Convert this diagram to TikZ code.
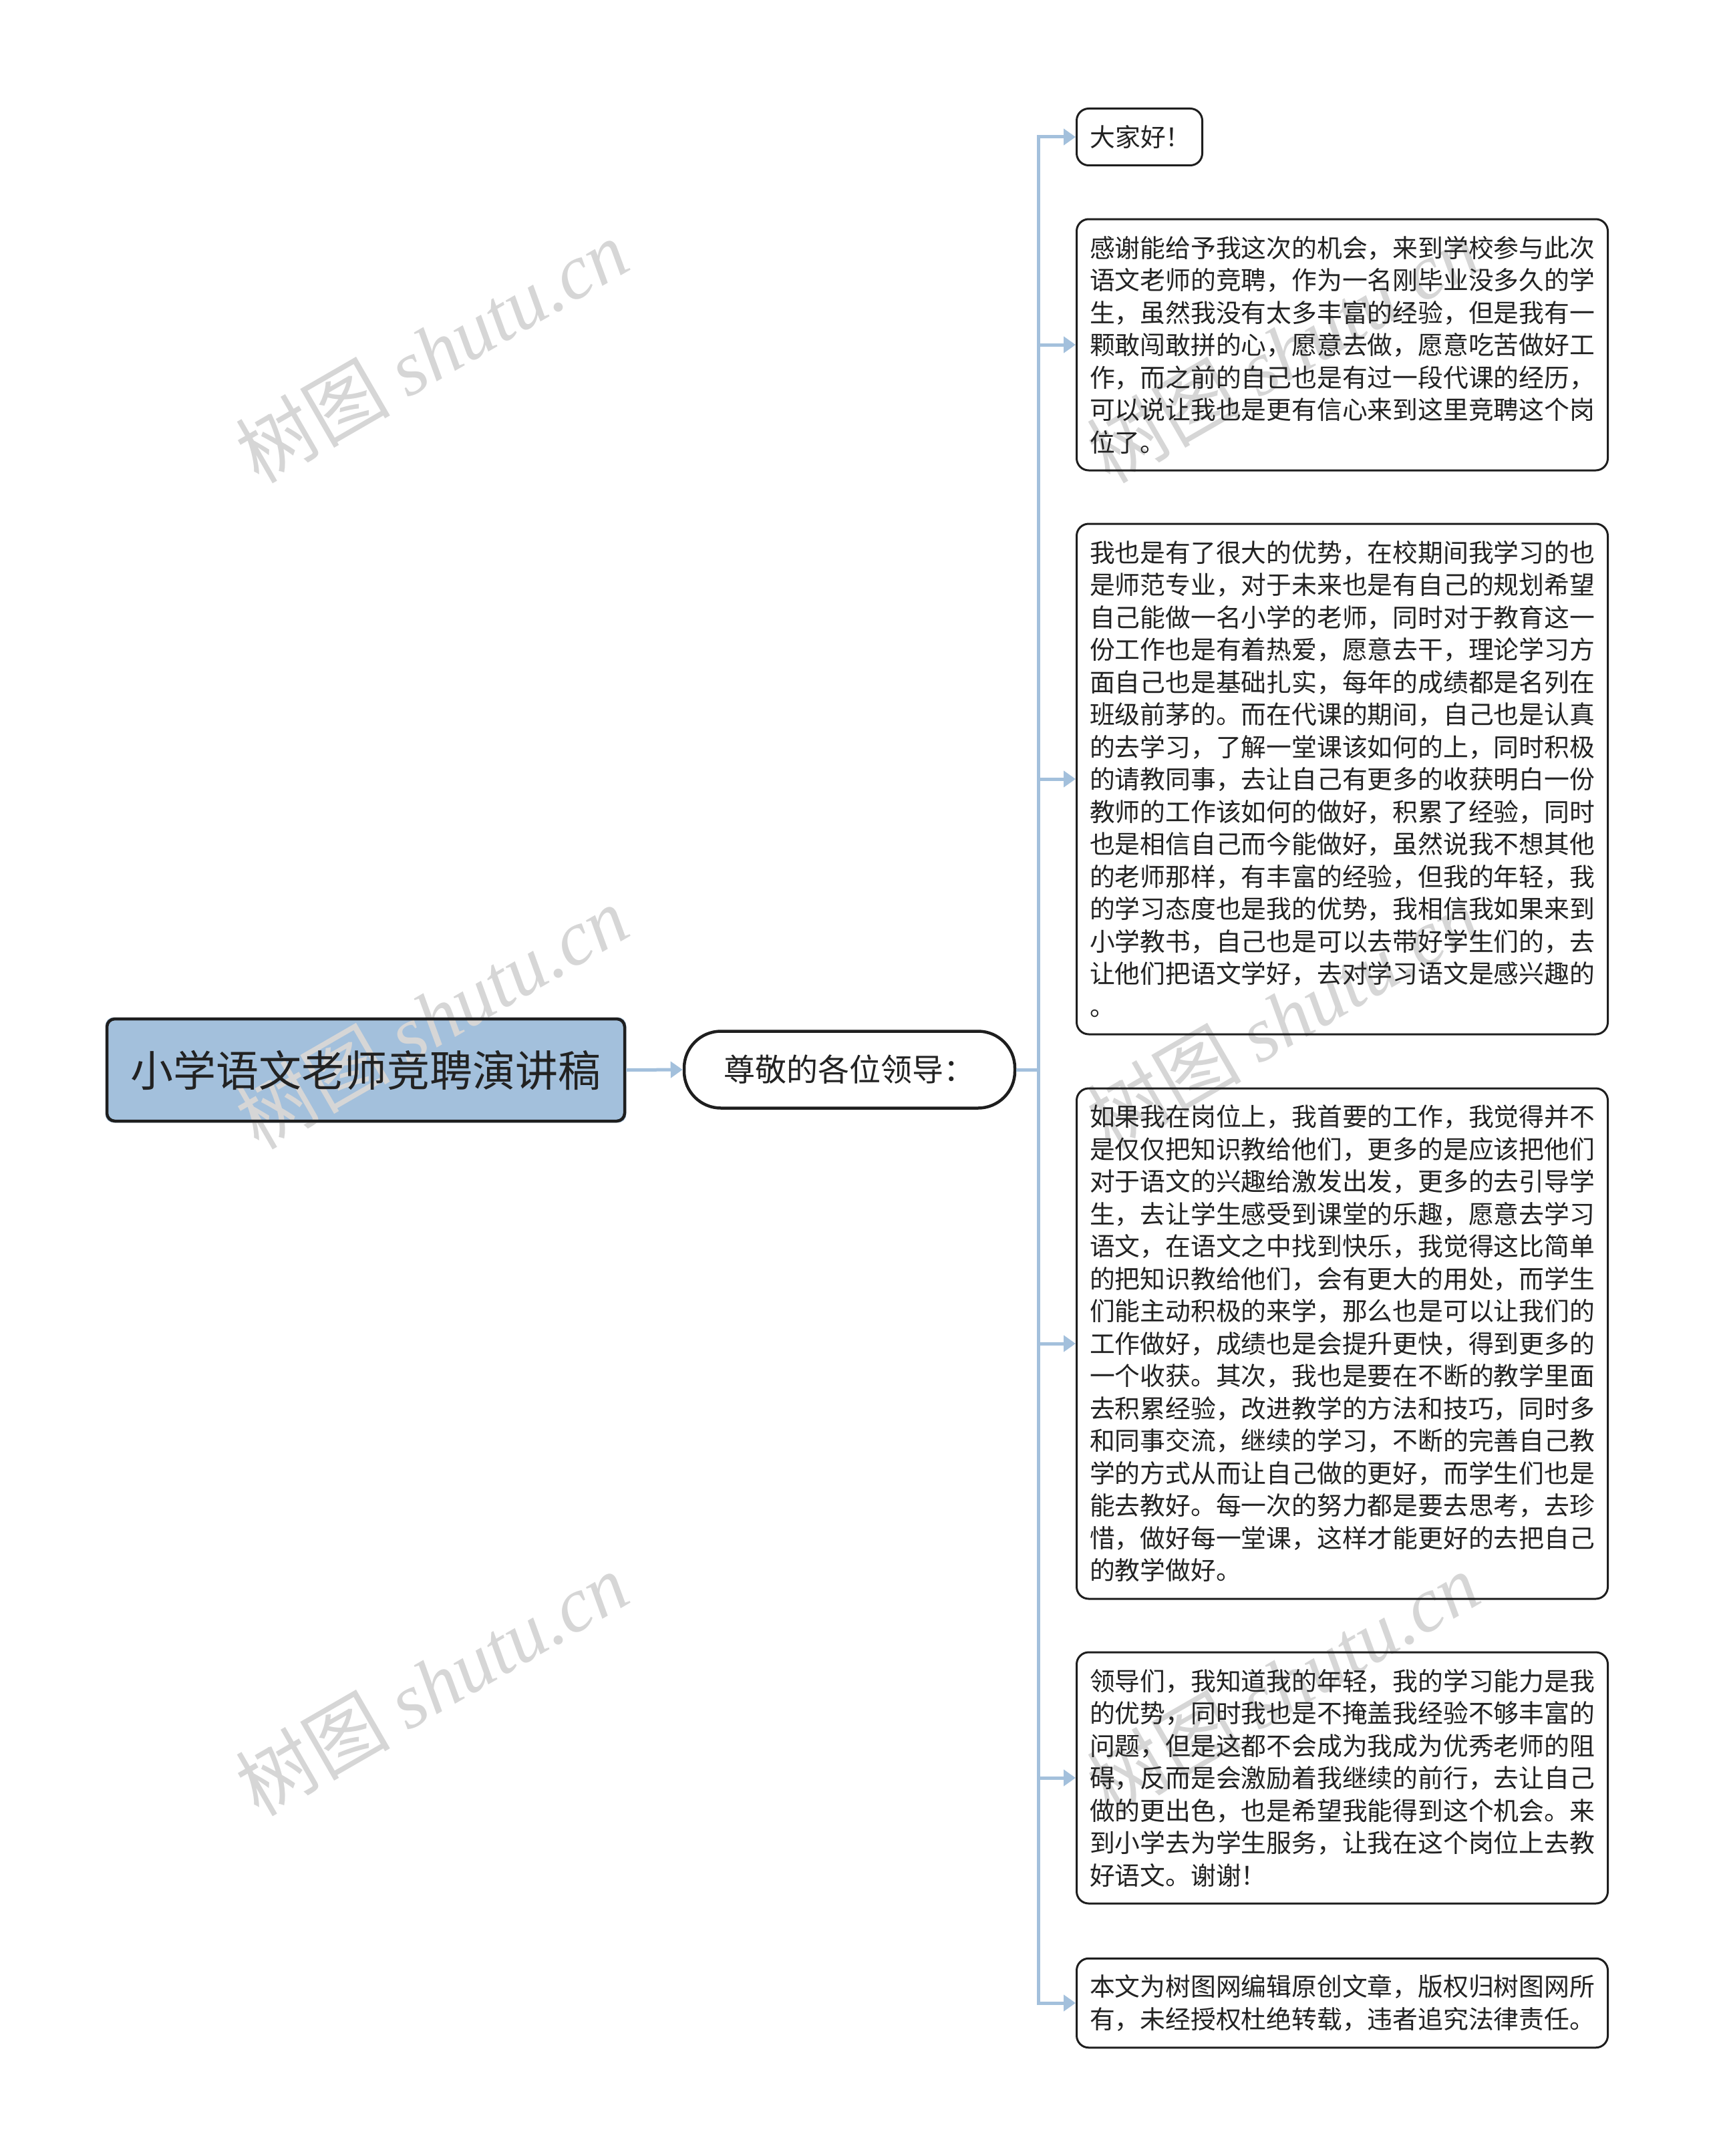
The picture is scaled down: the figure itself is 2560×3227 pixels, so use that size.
\documentclass[tikz,border=0pt]{standalone}
\usepackage{fontspec}
\setmainfont{Noto Sans CJK SC}
\newfontfamily\wmserif{Liberation Serif}
\usetikzlibrary{arrows.meta,backgrounds}
\definecolor{connc}{HTML}{A3C0DC}
\definecolor{rootfill}{HTML}{A3C0DC}
\definecolor{boxline}{HTML}{1E1E1E}
\definecolor{txt}{HTML}{222222}
\definecolor{wmc}{HTML}{D6D6D6}
\begin{document}
\begin{tikzpicture}[x=1pt,y=-1pt,
  leafbox/.style={draw=boxline, line width=3pt, rounded corners=18pt, text=txt,
    align=left, minimum width=795pt, inner xsep=0pt, inner ysep=0pt, anchor=west,
    font=\fontsize{37.8pt}{48.5pt}\selectfont},
  conn/.style={draw=connc, line width=5pt},
  tipend/.style={-{Triangle[length=18pt,width=24pt]}},
  wm/.style={text=wmc, rotate=30, inner sep=0pt, font=\fontsize{116pt}{116pt}\selectfont}]
\useasboundingbox (0,0) rectangle (2560,3227);

\node[draw=boxline, line width=4.5pt, rounded corners=12pt, minimum width=775pt,
  minimum height=153pt, inner sep=0pt, text=txt, font=\fontsize{64pt}{64pt}\selectfont]
  (root) at (547.5,1601.5) {小学语文老师竞聘演讲稿};

\node[draw=boxline, line width=4.5pt, rounded corners=55pt, minimum width=495pt,
  minimum height=115pt, inner sep=0pt, text=txt, font=\fontsize{47pt}{47pt}\selectfont]
  (lead) at (1271.5,1601) {尊敬的各位领导：};

\node[leafbox, minimum width=0pt, inner xsep=20pt, minimum height=85pt] (l1) at (1610,205) {\makebox[148pt][l]{大家好！}};

\node[leafbox, minimum height=376pt] (l2) at (1610,516) {感谢能给予我这次的机会，来到学校参与此次\\
语文老师的竞聘，作为一名刚毕业没多久的学\\
生，虽然我没有太多丰富的经验，但是我有一\\
颗敢闯敢拼的心，愿意去做，愿意吃苦做好工\\
作，而之前的自己也是有过一段代课的经历，\\
可以说让我也是更有信心来到这里竞聘这个岗\\
位了。};

\node[leafbox, minimum height=764pt] (l3) at (1610,1166) {我也是有了很大的优势，在校期间我学习的也\\
是师范专业，对于未来也是有自己的规划希望\\
自己能做一名小学的老师，同时对于教育这一\\
份工作也是有着热爱，愿意去干，理论学习方\\
面自己也是基础扎实，每年的成绩都是名列在\\
班级前茅的。而在代课的期间，自己也是认真\\
的去学习，了解一堂课该如何的上，同时积极\\
的请教同事，去让自己有更多的收获明白一份\\
教师的工作该如何的做好，积累了经验，同时\\
也是相信自己而今能做好，虽然说我不想其他\\
的老师那样，有丰富的经验，但我的年轻，我\\
的学习态度也是我的优势，我相信我如果来到\\
小学教书，自己也是可以去带好学生们的，去\\
让他们把语文学好，去对学习语文是感兴趣的\\
。};

\node[leafbox, minimum height=764pt] (l4) at (1610,2011) {如果我在岗位上，我首要的工作，我觉得并不\\
是仅仅把知识教给他们，更多的是应该把他们\\
对于语文的兴趣给激发出发，更多的去引导学\\
生，去让学生感受到课堂的乐趣，愿意去学习\\
语文，在语文之中找到快乐，我觉得这比简单\\
的把知识教给他们，会有更大的用处，而学生\\
们能主动积极的来学，那么也是可以让我们的\\
工作做好，成绩也是会提升更快，得到更多的\\
一个收获。其次，我也是要在不断的教学里面\\
去积累经验，改进教学的方法和技巧，同时多\\
和同事交流，继续的学习，不断的完善自己教\\
学的方式从而让自己做的更好，而学生们也是\\
能去教好。每一次的努力都是要去思考，去珍\\
惜，做好每一堂课，这样才能更好的去把自己\\
的教学做好。};

\node[leafbox, minimum height=376pt] (l5) at (1610,2661) {领导们，我知道我的年轻，我的学习能力是我\\
的优势，同时我也是不掩盖我经验不够丰富的\\
问题，但是这都不会成为我成为优秀老师的阻\\
碍，反而是会激励着我继续的前行，去让自己\\
做的更出色，也是希望我能得到这个机会。来\\
到小学去为学生服务，让我在这个岗位上去教\\
好语文。谢谢！};

\node[leafbox, minimum height=133.5pt] (l6) at (1610,2998) {本文为树图网编辑原创文章，版权归树图网所\\
有，未经授权杜绝转载，违者追究法律责任。};

\coordinate (bus) at (1554,1601);
\draw[conn, tipend] (root.east) -- (lead.west);
\draw[conn] (lead.east) -- (bus);
\foreach \n in {l1,l2,l3,l4,l5,l6} \draw[conn, tipend] (bus) |- (\n.west);

\begin{scope}[on background layer]
  \fill[rootfill, rounded corners=12pt] (root.south west) rectangle (root.north east);
  \foreach \x/\y [count=\i] in {646/525,1920/525,646/1522,1920/1522,646/2520,1920/2520}
    \node[wm] (wm\i) at (\x,\y) {树图 {\wmserif\itshape shutu.cn}};
\end{scope}
\end{tikzpicture}
\end{document}
